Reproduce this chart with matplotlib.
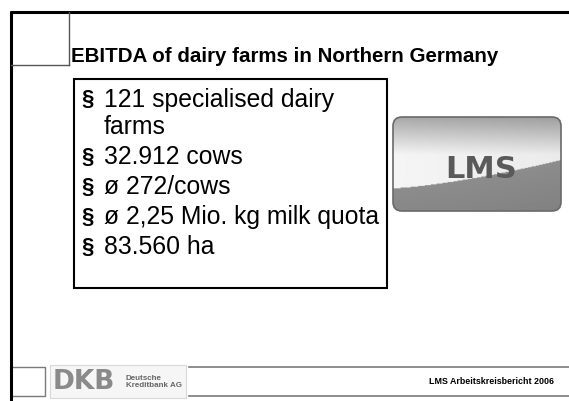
import numpy as np
import matplotlib
matplotlib.use('Agg')
import matplotlib.pyplot as plt
from matplotlib.patches import Rectangle, FancyBboxPatch

plt.rcParams['font.family'] = ['Liberation Sans', 'DejaVu Sans']

# slide content
title = "EBITDA of dairy farms in Northern Germany"
bullets = [["121 specialised dairy", "farms"],
           ["32.912 cows"],
           ["ø 272/cows"],
           ["ø 2,25 Mio. kg milk quota"],
           ["83.560 ha"]]
bullet_y = [100, 157, 187, 217, 247]
footer_text = "LMS Arbeitskreisbericht 2006"
bank_name = "Deutsche\nKreditbank AG"

W, H = 569, 401
fig = plt.figure(figsize=(W / 100, H / 100), dpi=100, facecolor='white')
ax = fig.add_axes([0, 0, 1, 1])
ax.set_xlim(0, W)
ax.set_ylim(H, 0)
ax.axis('off')

# frame lines
ax.plot([10, W], [12, 12], color='black', lw=2.2, solid_capstyle='butt')
ax.plot([11, 11], [11, H], color='black', lw=2.2, solid_capstyle='butt')
ax.plot([11, 69], [65, 65], color='#555555', lw=1.0)
ax.plot([69, 69], [12, 65], color='#555555', lw=1.0)

# title
ax.text(71, 56, title, fontsize=14.8, fontweight='bold', va='center', ha='left')

# bullet box
ax.add_patch(Rectangle((74, 79), 313, 209, fill=False, edgecolor='black', lw=1.5))
for lines, y in zip(bullets, bullet_y):
    ax.text(81, y, "§", fontsize=16, fontweight='bold', va='center')
    for k, line in enumerate(lines):
        ax.text(104, y + 27 * k, line, fontsize=17.8, va='center')

# LMS logo
x0, x1, y0, y1 = 393, 561, 117, 211
nx, ny = 200, 120
u = np.linspace(0, 1, nx)[None, :]
t = np.linspace(0, 1, ny)[:, None]
top = 0.62 + 0.30 * np.clip(t / 0.40, 0, 1) + 0.04 * (1 - u)
wave = 0.76 - 0.30 * u ** 1.4
bottom = 0.55 - 0.08 * (t - wave)
img = np.where(t < wave, top, bottom)
im = ax.imshow(img, cmap='gray', vmin=0, vmax=1, extent=[x0, x1, y1, y0],
               aspect='auto', interpolation='bilinear', zorder=2)
logo = FancyBboxPatch((x0, y0), x1 - x0, y1 - y0, boxstyle='round,pad=0,rounding_size=9',
                      facecolor='none', edgecolor='#6a6a6a', lw=1.2, zorder=3)
ax.add_patch(logo)
im.set_clip_path(logo)
ax.text(481, 170, "LMS", family='DejaVu Sans', fontsize=22, fontweight='bold',
        color='#5a5a5a', ha='center', va='center', zorder=4)

# footer
ax.plot([189, W], [367, 367], color='#7a7a7a', lw=1.2)
ax.plot([189, W], [396, 396], color='#7a7a7a', lw=1.2)
ax.add_patch(Rectangle((11, 367), 34, 29, fill=False, edgecolor='#7a7a7a', lw=1.0))
ax.add_patch(Rectangle((50, 365), 136, 33, facecolor='#f6f6f6', edgecolor='#d8d8d8', lw=0.8))
ax.text(53, 382, "DKB", family='DejaVu Sans', fontsize=19, fontweight='bold',
        color='#8a8a8a', va='center', ha='left')
ax.text(126, 382, bank_name, fontsize=5.8, fontweight='bold', color='#666666',
        va='center', ha='left', linespacing=1.0)
ax.text(554, 381, footer_text, fontsize=6.4, fontweight='bold', ha='right', va='center')

fig.savefig('out.png', dpi=100, facecolor='white')
